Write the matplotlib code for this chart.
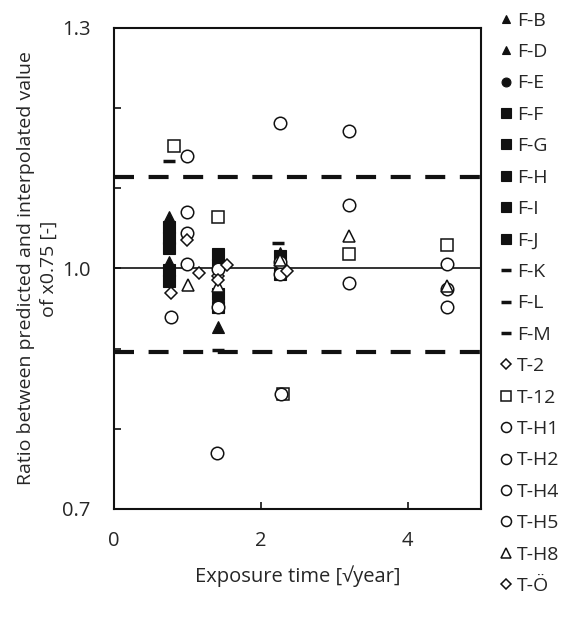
import matplotlib
matplotlib.use("Agg")
import matplotlib.pyplot as plt
from matplotlib.ticker import MultipleLocator, FuncFormatter
from matplotlib.lines import Line2D

plt.rcParams['font.family'] = ['Open Sans', 'DejaVu Sans']

# series names and their points (sqrt of exposure years, ratio)
names = ["F-B", "F-D", "F-E", "F-F", "F-G", "F-H", "F-I", "F-J", "F-K", "F-L", "F-M",
         "T-2", "T-12", "T-H1", "T-H2", "T-H4", "T-H5", "T-H8", "T-Ö"]

fb_x = [0.755, 1.42]
fb_y = [1.064, 0.927]
fd_x = [0.755, 2.26]
fd_y = [1.008, 1.019]
fe_x = [1.42]
fe_y = [1.010]
ff_x = [0.755, 1.42]
ff_y = [1.052, 1.018]
fg_x = [0.755, 1.42]
fg_y = [1.038, 1.004]
fh_x = [0.755, 1.42]
fh_y = [1.026, 0.968]
fi_x = [0.755, 1.42, 2.26]
fi_y = [0.998, 0.952, 1.016]
fj_x = [0.755, 2.26]
fj_y = [0.985, 0.993]
fk_x = [0.75]
fk_y = [1.134]
fl_x = [1.42]
fl_y = [0.898]
fm_x = [2.24]
fm_y = [1.032]
t2_x = [0.77, 1.16, 1.42]
t2_y = [0.970, 0.995, 0.991]
t12_x = [0.82, 1.42, 2.30, 3.20, 4.53]
t12_y = [1.153, 1.064, 0.844, 1.018, 1.029]
th1_x = [1.00, 0.77, 1.42]
th1_y = [1.140, 0.940, 0.952]
th2_x = [1.00, 2.26]
th2_y = [1.070, 1.181]
th4_x = [1.00, 3.20, 1.41]
th4_y = [1.044, 1.171, 0.770]
th5_x = [1.00, 1.42, 2.26, 2.26, 2.28, 3.20, 3.20, 4.53, 4.53, 4.53]
th5_y = [1.006, 0.999, 1.008, 0.993, 0.844, 1.079, 0.982, 1.006, 0.974, 0.952]
th8_x = [1.01, 1.42, 2.26, 3.20, 4.53]
th8_y = [0.979, 0.978, 1.011, 1.041, 0.978]
to_x = [1.00, 1.54, 1.42, 2.36]
to_y = [1.036, 1.004, 0.986, 0.997]

xs = [fb_x, fd_x, fe_x, ff_x, fg_x, fh_x, fi_x, fj_x, fk_x, fl_x, fm_x,
      t2_x, t12_x, th1_x, th2_x, th4_x, th5_x, th8_x, to_x]
ys = [fb_y, fd_y, fe_y, ff_y, fg_y, fh_y, fi_y, fj_y, fk_y, fl_y, fm_y,
      t2_y, t12_y, th1_y, th2_y, th4_y, th5_y, th8_y, to_y]

upper = 1.114
lower = 0.896

def style(name):
    if name in ("F-B", "F-D"):
        return dict(marker='^', markersize=8, markerfacecolor='#111111', markeredgecolor='#111111', markeredgewidth=0.8)
    if name == "F-E":
        return dict(marker='o', markersize=8, markerfacecolor='#111111', markeredgecolor='#111111', markeredgewidth=0.8)
    if name in ("F-F", "F-G", "F-H", "F-I", "F-J"):
        return dict(marker='s', markersize=8.5, markerfacecolor='#111111', markeredgecolor='#111111', markeredgewidth=0.8)
    if name in ("F-K", "F-L", "F-M"):
        return dict(marker='_', markersize=9, markeredgecolor='#111111', markeredgewidth=2.5)
    if name in ("T-2", "T-Ö"):
        return dict(marker='D', markersize=6.3, markerfacecolor='white', markeredgecolor='#111111', markeredgewidth=1.1)
    if name == "T-12":
        return dict(marker='s', markersize=8.5, markerfacecolor='white', markeredgecolor='#111111', markeredgewidth=1.1)
    if name == "T-H8":
        return dict(marker='^', markersize=8.5, markerfacecolor='white', markeredgecolor='#111111', markeredgewidth=1.1)
    return dict(marker='o', markersize=9, markerfacecolor='white', markeredgecolor='#111111', markeredgewidth=1.1)

fig = plt.figure(figsize=(5.70, 6.17), dpi=100)
ax = fig.add_axes([114/570, 1-509/617, 367/570, 481/617])

ax.axhline(1.0, color='#111111', lw=1.2, zorder=1)
ax.axhline(upper, color='#111111', lw=3, dashes=(4.8, 3.5), zorder=1)
ax.axhline(lower, color='#111111', lw=3, dashes=(4.8, 3.5), zorder=1)

handles = []
for name, x, y in zip(names, xs, ys):
    st = style(name)
    ax.plot(x, y, linestyle='none', zorder=3, **st)
    hs = dict(st)
    hs['markersize'] = st['markersize'] * 0.8
    handles.append(Line2D([], [], linestyle='none', label=name, **hs))

ax.set_xlim(0, 5)
ax.set_ylim(0.7, 1.3)
ax.xaxis.set_major_locator(MultipleLocator(2))
ax.yaxis.set_major_locator(MultipleLocator(0.1))
ax.yaxis.set_major_formatter(FuncFormatter(
    lambda v, p: "%.1f" % v if round(v * 10) in (7, 10, 13) else ""))
ax.tick_params(direction='in', length=5, width=1.2, labelsize=14.5, colors='#111111',
               labelcolor='#262626')
ax.tick_params(axis='x', pad=16)
ax.tick_params(axis='y', pad=17)
for s in ax.spines.values():
    s.set_linewidth(1.5)
    s.set_color('#111111')

ax.set_xlabel("Exposure time [√year]", fontsize=14.5, color='#262626', labelpad=10)
ax.set_ylabel("Ratio between predicted and interpolated value\nof x0.75 [-]",
              fontsize=14, color='#262626', labelpad=3, linespacing=1.3)

fig.legend(handles=handles, loc='upper left', bbox_to_anchor=(490/570, 0.997),
           frameon=False, fontsize=14, handlelength=0.6, handletextpad=0.3,
           labelspacing=0.69, borderaxespad=0.1, labelcolor='#262626')

fig.savefig("out.png", dpi=100)
